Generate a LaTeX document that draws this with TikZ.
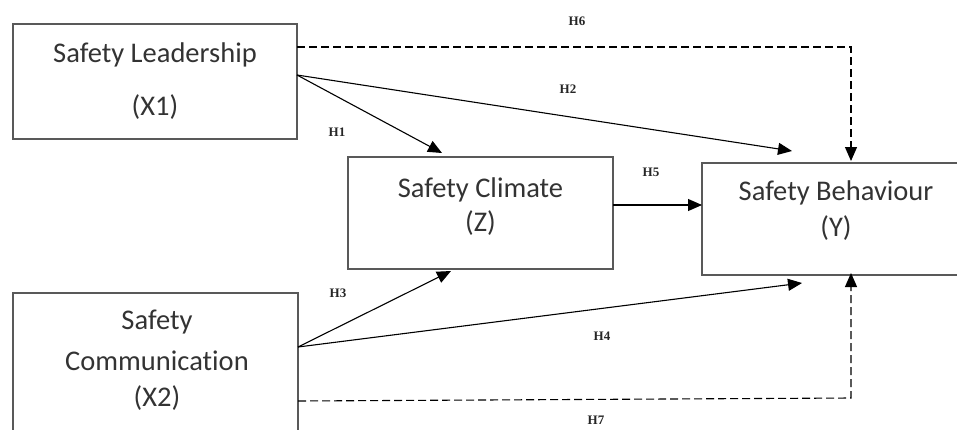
\documentclass[tikz,border=0pt]{standalone}
\usepackage{fontspec}
\setmainfont[Ligatures=NoCommon]{Carlito}
\newfontfamily\labfont{Liberation Serif}
\usetikzlibrary{arrows.meta}
\begin{document}
\begin{tikzpicture}[x=1pt,y=-1pt,
  boxst/.style={draw=black!65, line width=1.2pt, rectangle, inner sep=0pt},
  txt/.style={font=\fontsize{28.5}{30}\selectfont, text=black!80, inner sep=0pt, anchor=center},
  hlab/.style={font=\labfont\bfseries\fontsize{13}{15}\selectfont, text=black!85, inner sep=0pt},
  arr/.style={line width=1.1pt, -{Triangle[length=14pt,width=12pt]}},
  darr/.style={line width=1.1pt, dash pattern=on 8pt off 4pt, -{Triangle[length=14pt,width=12pt]}}]
\useasboundingbox (0,0) rectangle (957,429);
\clip (0,0) rectangle (957,429);
% boxes
\node[boxst, minimum width=284pt, minimum height=115pt] (x1) at (155,81.5) {};
\node[boxst, minimum width=265pt, minimum height=112pt] (z) at (480.5,213) {};
\node[boxst, minimum width=260pt, minimum height=112pt] (y) at (832,219) {};
\node[boxst, minimum width=285pt, minimum height=140pt] (x2) at (155.5,363) {};
% texts
\node[txt] (x1a) at (155,55) {Safety Leadership};
\node[txt] (x1b) at (155,107) {(X1)};
\node[txt] (za) at (480.5,190) {Safety Climate};
\node[txt] (zb) at (480.5,223) {(Z)};
\node[txt] (ya) at (836,193) {Safety Behaviour};
\node[txt] (yb) at (836,228) {(Y)};
\node[txt] (x2a) at (157,322) {Safety};
\node[txt] (x2b) at (157,361) {Communication};
\node[txt] (x2c) at (157,398) {(X2)};
% connection points
\coordinate (x1o) at (297,75);
\coordinate (x1d) at (297,47);
\coordinate (x2o) at (298,347);
\coordinate (x2d) at (298,401);
\coordinate (h1e) at (442,153);
\coordinate (h2e) at (792,151);
\coordinate (h6c) at (851,47);
\coordinate (h6e) at (851,161);
\coordinate (zo) at (613,205);
\coordinate (h5e) at (702,205);
\coordinate (h3e) at (451,271);
\coordinate (h4e) at (802,283);
\coordinate (h7c) at (851,398);
\coordinate (h7e) at (851,273);
% connectors
\draw[arr] (x1o) -- (h1e);
\draw[arr] (x1o) -- (h2e);
\draw[darr] (x1d) -- (h6c) -- (h6e);
\draw[arr] (zo) -- (h5e);
\draw[arr] (x2o) -- (h3e);
\draw[arr] (x2o) -- (h4e);
\draw[darr] (x2d) -- (h7c) -- (h7e);
% labels
\node[hlab] (l6) at (577,21) {H6};
\node[hlab] (l2) at (568,89) {H2};
\node[hlab] (l1) at (337,132) {H1};
\node[hlab] (l5) at (651,172) {H5};
\node[hlab] (l3) at (338,293) {H3};
\node[hlab] (l4) at (602,336) {H4};
\node[hlab] (l7) at (596,420) {H7};
\end{tikzpicture}
\end{document}
